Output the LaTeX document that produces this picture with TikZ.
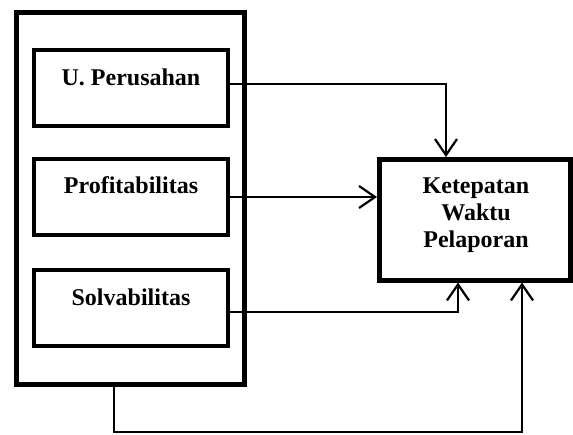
\documentclass[tikz,border=0pt]{standalone}
\usepackage{fontspec}
\setmainfont{Liberation Serif}
\usetikzlibrary{arrows.meta,calc}
\begin{document}
\begin{tikzpicture}[x=1pt,y=-1pt,
  outerbox/.style={draw,line width=5pt,minimum width=227.5pt,minimum height=372pt,inner sep=0pt},
  varbox/.style={draw,line width=4pt,minimum width=194pt,minimum height=76pt,inner sep=0pt},
  targetbox/.style={draw,line width=5pt,minimum width=191pt,minimum height=120.5pt,inner sep=0pt},
  lbl/.style={font=\fontsize{24}{27.3}\selectfont\bfseries,inner sep=0pt,align=center},
  conn/.style={line width=1.6pt},
  arr/.style={conn,-{Straight Barb[length=16pt,width=22pt,line width=2.2pt]}}]
\useasboundingbox (0,0) rectangle (573,434);
\node[outerbox] (outer) at (130.25,198.5) {};
\node[varbox] (u) at (131,88.25) {};
\node[varbox] (p) at (131,197) {};
\node[varbox] (s) at (131,308) {};
\node[lbl,anchor=base] (ul) at (131,85) {U. Perusahan};
\node[lbl,anchor=base] (pl) at (131,193) {Profitabilitas};
\node[lbl,anchor=base] (sl) at (131,305) {Solvabilitas};
\node[targetbox] (t) at (475,219.75) {};
\node[lbl] (tl) at (476,215) {Ketepatan\\Waktu\\Pelaporan};
\coordinate (k1) at (446,0);
\coordinate (k2) at (458,0);
\coordinate (k3) at (522,0);
\coordinate (bot) at (0,432);
\draw[arr] ([yshift=4pt]u.east) -| (k1 |- t.north);
\draw[arr] (p.east) -- (t.west |- p.east);
\draw[arr] ([yshift=-4pt]s.east) -| (k2 |- t.south);
\draw[arr] ([xshift=-16pt]outer.south) |- (k3 |- bot) -- (k3 |- t.south);
\end{tikzpicture}
\end{document}
